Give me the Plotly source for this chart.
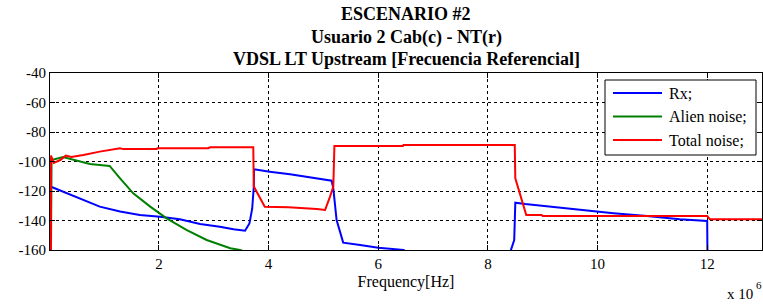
import plotly.graph_objects as go

# Data (frequency in Hz, level in dB)
rx_freq = [0.03e6, 0.32e6, 0.92e6, 1.29e6, 1.65e6, 2.02e6, 2.38e6, 2.75e6, 3.11e6, 3.36e6, 3.57e6,
           3.65e6, 3.70e6, 3.73e6, 3.735e6, 4.02e6, 4.39e6, 5.15e6, 5.18e6, 5.24e6, 5.36e6, 5.67e6,
           6.0e6, 6.46e6, 6.6e6, 8.35e6, 8.42e6, 8.48e6, 8.5e6, 8.68e6, 9.14e6, 9.68e6, 10.29e6,
           10.9e6, 11.5e6, 12.0e6, 12.01e6, 13e6]
rx_level = [-117.1, -121.6, -130.6, -133.9, -136.3, -137.5, -139.2, -142.4, -144.2, -146.0, -146.9,
            -142.0, -132.0, -117.0, -105.3, -106.9, -108.7, -113.0, -118.2, -139.7, -155.0, -156.6,
            -158.4, -160.0, -163.0, -175.0, -160.0, -153.2, -127.9, -128.8, -130.6, -132.9, -135.1,
            -137.0, -139.2, -140.3, -185.0, -185.0]

alien_freq = [0.03e6, 0.04e6, 0.25e6, 0.38e6, 0.56e6, 0.74e6, 0.92e6, 1.1e6, 1.29e6, 1.53e6, 1.84e6,
              2.14e6, 2.5e6, 2.87e6, 3.3e6, 3.48e6, 3.8e6]
alien_level = [-160.0, -99.0, -97.0, -98.3, -100.1, -101.7, -102.4, -103.0, -111.4, -121.6, -130.6,
               -138.5, -146.4, -153.2, -158.8, -160.0, -164.0]

total_freq = [0.03e6, 0.031e6, 0.08e6, 0.2e6, 0.3e6, 0.4e6, 0.62e6, 0.92e6, 1.29e6, 1.35e6, 1.96e6,
              1.97e6, 2.9e6, 2.93e6, 3.72e6, 3.73e6, 3.93e6, 4.36e6, 4.88e6, 5.03e6, 5.12e6, 5.18e6,
              5.2e6, 6.45e6, 6.46e6, 8.49e6, 8.5e6, 8.68e6, 8.7e6, 8.98e6, 9.0e6, 12.0e6, 12.05e6, 13e6]
total_level = [-160.0, -96.0, -101.0, -99.0, -96.0, -97.0, -95.6, -93.3, -91.1, -91.6, -91.6,
               -91.0, -91.0, -90.4, -90.4, -117.0, -130.6, -131.0, -132.2, -132.9, -123.8, -117.0,
               -89.5, -89.5, -88.8, -88.8, -111.4, -135.1, -136.3, -136.3, -137.0, -137.0, -139.2, -139.2]

series_names = ["Rx;", "Alien noise;", "Total noise;"]
series_colors = ["rgb(0,0,255)", "rgb(0,128,0)", "rgb(255,0,0)"]

x_tick_vals = [2e6, 4e6, 6e6, 8e6, 10e6, 12e6]
x_tick_text = ["2", "4", "6", "8", "10", "12"]
y_tick_vals = [-40, -60, -80, -100, -120, -140, -160]
y_tick_text = ["-40", "-60", "-80", "-100", "-120", "-140", "-160"]

title_lines = ["ESCENARIO #2", "Usuario 2 Cab(c) - NT(r)", "VDSL LT Upstream [Frecuencia Referencial]"]

FONT = "Liberation Serif"
W, H = 763, 306
L, R, T, B = 50, 1, 73, 56
pw, ph = W - L - R, H - T - B


def px2paper_x(px):
    return (px - L) / pw


def px2paper_y(py):
    return (H - B - py) / ph


fig = go.Figure()
for fx, lv, nm, col in zip([rx_freq, alien_freq, total_freq], [rx_level, alien_level, total_level],
                           series_names, series_colors):
    fig.add_trace(go.Scatter(x=fx, y=lv, mode="lines", name=nm, showlegend=False,
                             line=dict(color=col, width=2)))

axis_common = dict(showline=True, mirror="ticks", linecolor="black", linewidth=1,
                   ticks="inside", ticklen=5, tickcolor="black", automargin=False,
                   showgrid=True, gridcolor="black", gridwidth=1, griddash="3px,3px",
                   zeroline=False, tickfont=dict(family=FONT, size=15, color="black"))

fig.update_xaxes(range=[0.012e6, 13e6], tickvals=x_tick_vals, ticktext=x_tick_text,
                 title=dict(text="Frequency[Hz]", font=dict(family=FONT, size=16, color="black"),
                            standoff=4), **axis_common)
fig.update_yaxes(range=[-160, -40], tickvals=y_tick_vals, ticktext=y_tick_text, **axis_common)

annotations = []
for t, py in zip(title_lines, [14, 37, 59]):
    annotations.append(dict(text="<b>" + t + "</b>", x=0.5, xref="paper", xanchor="center",
                            y=px2paper_y(py), yref="paper", yanchor="middle", showarrow=False,
                            font=dict(family=FONT, size=18, color="black")))
annotations.append(dict(text="x 10", x=px2paper_x(755), xref="paper", xanchor="right",
                        y=px2paper_y(294), yref="paper", yanchor="middle", showarrow=False,
                        font=dict(family=FONT, size=15, color="black")))
annotations.append(dict(text="6", x=px2paper_x(754), xref="paper", xanchor="left",
                        y=px2paper_y(285), yref="paper", yanchor="middle", showarrow=False,
                        font=dict(family=FONT, size=11, color="black")))

# Legend box drawn in paper coordinates
shapes = [dict(type="rect", xref="paper", yref="paper",
               x0=px2paper_x(605), x1=px2paper_x(756), y0=px2paper_y(155), y1=px2paper_y(80),
               line=dict(color="black", width=1), fillcolor="white", layer="above")]
for i, (nm, col) in enumerate(zip(series_names, series_colors)):
    yy = 93 + 23.5 * i
    shapes.append(dict(type="line", xref="paper", yref="paper",
                       x0=px2paper_x(613), x1=px2paper_x(662), y0=px2paper_y(yy), y1=px2paper_y(yy),
                       line=dict(color=col, width=2), layer="above"))
    annotations.append(dict(text=nm, x=px2paper_x(667), xref="paper", xanchor="left",
                            y=px2paper_y(yy), yref="paper", yanchor="middle", showarrow=False,
                            font=dict(family=FONT, size=16, color="black")))

fig.update_layout(
    width=W, height=H,
    margin=dict(l=L, r=R, t=T, b=B),
    paper_bgcolor="white", plot_bgcolor="white",
    font=dict(family=FONT, color="black"),
    showlegend=False,
    shapes=shapes,
    annotations=annotations,
)

fig.write_html("out.html", config={"displayModeBar": False},
               post_script="document.body.style.margin='0';")
